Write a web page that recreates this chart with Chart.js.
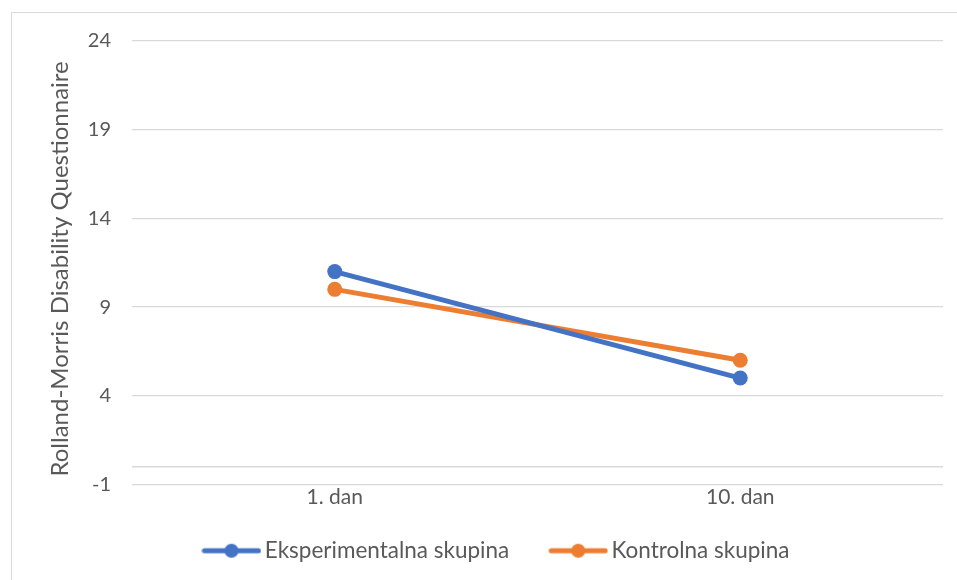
<!DOCTYPE html>
<html><head><meta charset="utf-8">
<script src="https://cdn.jsdelivr.net/npm/chart.js@4.4.0/dist/chart.umd.min.js"></script>
<style>
html,body{margin:0;padding:0;background:#fff;}
#wrap{position:relative;width:957px;height:580px;overflow:hidden;}
#frame{position:absolute;left:11px;top:12px;width:2000px;height:2000px;border-left:1px solid #d9d9d9;border-top:1px solid #d9d9d9;}
canvas{position:absolute;left:0;top:0;}
</style></head><body>
<div id="wrap"><div id="frame"></div><canvas id="c" width="957" height="580"></canvas></div>
<script>
const categories = ['1. dan', '10. dan'];
const eksperimentalna = [11, 5];
const kontrolna = [10, 6];
const yMin = -1, yMax = 24, yStep = 5;
const yTitle = 'Rolland-Morris Disability Questionnaire';
const seriesNames = ['Eksperimentalna skupina', 'Kontrolna skupina'];
const colors = ['#4472C4', '#ED7D31'];

const FONT = 'Lato, "Open Sans", sans-serif';
const TXT = '#595959';

function legendIcon(color) {
  const c = document.createElement('canvas');
  c.width = 60; c.height = 18;
  const g = c.getContext('2d');
  g.strokeStyle = color; g.lineWidth = 5; g.lineCap = 'round';
  g.beginPath(); g.moveTo(3, 9); g.lineTo(57, 9); g.stroke();
  g.fillStyle = color;
  g.beginPath(); g.arc(30, 9, 7, 0, Math.PI * 2); g.fill();
  return c;
}
const icons = colors.map(legendIcon);

const zeroLine = {
  id: 'zeroLine',
  beforeDatasetsDraw(chart) {
    const y = chart.scales.y.getPixelForValue(0);
    const a = chart.chartArea;
    const ctx = chart.ctx;
    ctx.save();
    ctx.strokeStyle = '#d9d9d9'; ctx.lineWidth = 1.3;
    ctx.beginPath(); ctx.moveTo(a.left, y); ctx.lineTo(a.right, y); ctx.stroke();
    ctx.restore();
  }
};

const legendShift = {
  id: 'legendShift',
  afterLayout(chart) {
    if (chart.legend) { chart.legend.left += 5; chart.legend.right += 5; }
  }
};

new Chart(document.getElementById('c'), {
  type: 'line',
  data: {
    labels: categories,
    datasets: [
      { label: seriesNames[0], data: eksperimentalna, borderColor: colors[0], backgroundColor: colors[0],
        borderWidth: 5, pointRadius: 7.5, pointHoverRadius: 7.5, pointBackgroundColor: colors[0], pointBorderWidth: 0, tension: 0 },
      { label: seriesNames[1], data: kontrolna, borderColor: colors[1], backgroundColor: colors[1],
        borderWidth: 5, pointRadius: 7.5, pointHoverRadius: 7.5, pointBackgroundColor: colors[1], pointBorderWidth: 0, tension: 0 }
    ]
  },
  options: {
    responsive: false,
    animation: false,
    layout: { padding: { top: 41, right: 14, left: 46, bottom: 8 } },
    plugins: {
      tooltip: { enabled: false },
      legend: {
        position: 'bottom',
        labels: {
          usePointStyle: true,
          pointStyleWidth: 44,
          padding: 24,
          color: TXT,
          font: { family: FONT, size: 22.5 },
          generateLabels(chart) {
            const items = Chart.defaults.plugins.legend.labels.generateLabels(chart);
            items.forEach((it, i) => {
              it.pointStyle = icons[i];
              if (i < items.length - 1) it.text = it.text + '    ';
            });
            return items;
          }
        }
      }
    },
    scales: {
      x: {
        offset: true,
        grid: { display: false },
        border: { display: false },
        ticks: { color: TXT, font: { family: FONT, size: 21 }, padding: -8 },
        afterFit(s) { s.height = 31; }
      },
      y: {
        min: yMin, max: yMax,
        ticks: { stepSize: yStep, color: TXT, font: { family: FONT, size: 20 }, padding: 21 },
        grid: { color: '#d9d9d9', lineWidth: 1.3, drawTicks: false },
        border: { display: false },
        title: { display: true, text: yTitle + '  ', color: TXT, font: { family: FONT, size: 24 }, padding: { top: 0, bottom: 4 } },
        afterFit(s) { s.width = 86; }
      }
    }
  },
  plugins: [zeroLine, legendShift]
});
</script>
</body></html>
